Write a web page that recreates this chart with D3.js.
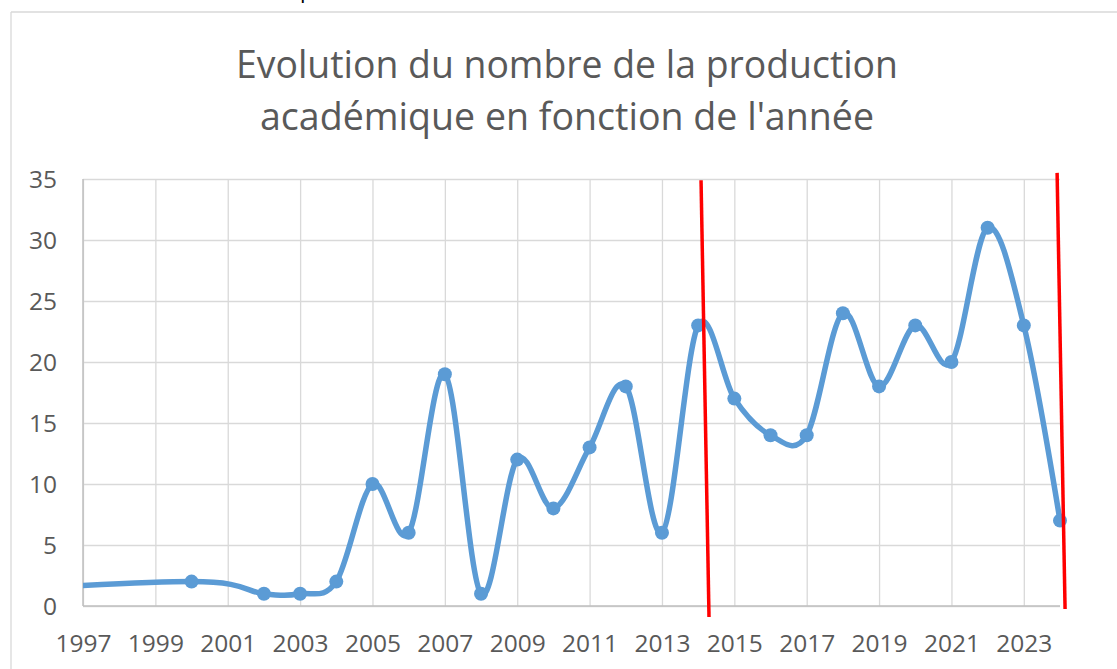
<!DOCTYPE html>
<html>
<head>
<meta charset="utf-8">
<script src="https://cdn.jsdelivr.net/npm/d3@7"></script>
<style>
  html, body { margin: 0; padding: 0; background: #ffffff; }
  svg { display: block; }
</style>
</head>
<body>
<svg id="chart" width="1117" height="669"></svg>
<script>
// ---- data ----
const years  = [1993, 2000, 2002, 2003, 2004, 2005, 2006, 2007, 2008, 2009, 2010, 2011, 2012, 2013, 2014, 2015, 2016, 2017, 2018, 2019, 2020, 2021, 2022, 2023, 2024];
const counts = [1,    2,    1,    1,    2,    10,   6,    19,   1,    12,   8,    13,   18,   6,    23,   17,   14,   14,   24,   18,   23,   20,   31,   23,   7];
const markerFrom = 2000; // the 1993 point sits outside the axis range (no marker shown)
const xTicks = [1997, 1999, 2001, 2003, 2005, 2007, 2009, 2011, 2013, 2015, 2017, 2019, 2021, 2023];
const yTicks = [0, 5, 10, 15, 20, 25, 30, 35];
const titleLines = ["Evolution du nombre de la production", "académique en fonction de l'année"];
// red annotation strokes, in data units (year, value)
const redLines = [
  {x1: 2014.08, y1: 34.9, x2: 2014.30, y2: -0.9},
  {x1: 2023.92, y1: 35.5, x2: 2024.14, y2: -0.25}
];

(function () {
// ---- layout ----
const svg = d3.select("#chart");
const pLeft = 83, pRight = 1060, pTop = 179, pBottom = 606;
const x = d3.scaleLinear().domain([1997, 2024]).range([pLeft, pRight]);
const y = d3.scaleLinear().domain([0, 35]).range([pBottom, pTop]);
const textColor = "#595959";
const font = "'Open Sans', 'Noto Sans', sans-serif";

// chart frame
svg.append("line").attr("x1", 11).attr("x2", 1117).attr("y1", 12).attr("y2", 12)
  .attr("stroke", "#d9d9d9").attr("stroke-width", 1.3);
svg.append("line").attr("x1", 11).attr("x2", 11).attr("y1", 12).attr("y2", 669)
  .attr("stroke", "#d9d9d9").attr("stroke-width", 1.3);

// cut-off text at the top (as in the reference)
svg.append("text").attr("x", 300).attr("y", -2).attr("font-family", font)
  .attr("font-size", 22).attr("fill", "#000").text("p");

// title
svg.selectAll("text.title").data(titleLines).enter().append("text")
  .attr("class", "title")
  .attr("x", 567).attr("y", (d, i) => 78 + i * 52)
  .attr("text-anchor", "middle")
  .attr("font-family", font).attr("font-size", 39)
  .attr("fill", textColor)
  .attr("textLength", (d, i) => i === 0 ? 662 : 614)
  .attr("lengthAdjust", "spacingAndGlyphs")
  .text(d => d);

// horizontal gridlines
const yAxis = d3.axisLeft(y).tickValues(yTicks).tickSize(-(pRight - pLeft)).tickPadding(26);
const gy = svg.append("g").attr("transform", `translate(${pLeft},0)`).call(yAxis);
gy.select(".domain").remove();
gy.selectAll(".tick line").attr("stroke", "#d9d9d9").attr("stroke-width", 1.3);
gy.selectAll(".tick text").attr("font-family", font).attr("font-size", 24.5).attr("fill", textColor)
  .attr("dy", "0.35em");

// vertical gridlines
const xAxis = d3.axisBottom(x).tickValues(xTicks).tickFormat(d3.format("d")).tickSize(-(pBottom - pTop)).tickPadding(37);
const gx = svg.append("g").attr("transform", `translate(0,${pBottom})`).call(xAxis);
gx.select(".domain").remove();
gx.selectAll(".tick line").attr("stroke", "#d9d9d9").attr("stroke-width", 1.3);
gx.selectAll(".tick text").attr("font-family", font).attr("font-size", 24.5).attr("fill", textColor)
  .attr("dy", "0.35em");

// axis lines
svg.append("line").attr("x1", pLeft).attr("x2", pRight).attr("y1", pBottom).attr("y2", pBottom)
  .attr("stroke", "#bfbfbf").attr("stroke-width", 1.5);
svg.append("line").attr("x1", pLeft).attr("x2", pLeft).attr("y1", pTop).attr("y2", pBottom)
  .attr("stroke", "#bfbfbf").attr("stroke-width", 1.5);

// clip (left side only)
svg.append("clipPath").attr("id", "clip").append("rect")
  .attr("x", pLeft).attr("y", 0).attr("width", 1117 - pLeft).attr("height", 669);

const pts = years.map((yr, i) => ({yr, v: counts[i]}));
const line = d3.line().x(d => x(d.yr)).y(d => y(d.v)).curve(d3.curveCardinal.tension(0));
svg.append("path").datum(pts)
  .attr("clip-path", "url(#clip)")
  .attr("d", line).attr("fill", "none")
  .attr("stroke", "#5b9bd5").attr("stroke-width", 5.5)
  .attr("stroke-linejoin", "round").attr("stroke-linecap", "round");

svg.append("g").selectAll("circle").data(pts.filter(d => d.yr >= markerFrom)).enter().append("circle")
  .attr("cx", d => x(d.yr)).attr("cy", d => y(d.v)).attr("r", 7)
  .attr("fill", "#5b9bd5");

// red annotation lines
svg.append("g").selectAll("line").data(redLines).enter().append("line")
  .attr("x1", d => x(d.x1)).attr("y1", d => y(d.y1))
  .attr("x2", d => x(d.x2)).attr("y2", d => y(d.y2))
  .attr("stroke", "#ff0000").attr("stroke-width", 3.5);
})();
</script>
</body>
</html>
